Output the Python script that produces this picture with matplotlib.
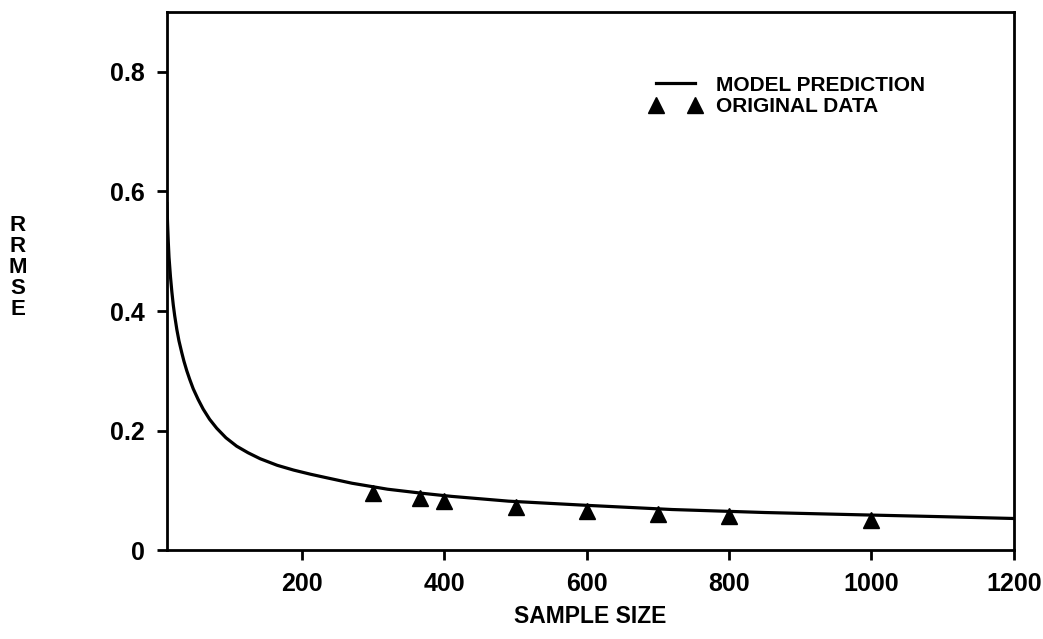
import numpy as np
import matplotlib
matplotlib.use("Agg")
import matplotlib.pyplot as plt
from matplotlib.ticker import FuncFormatter

# model prediction curve
modelSize = [10, 11, 12, 13, 15, 17, 19, 21, 24, 27, 31, 34, 38, 42, 47, 54, 61, 70, 80,
             93, 108, 124, 141, 165, 188, 212, 235, 270, 320, 370, 410, 490, 600, 720,
             850, 990, 1100, 1200]
modelRrmse = [0.58, 0.545, 0.515, 0.49, 0.458, 0.432, 0.41, 0.392, 0.369, 0.35, 0.330, 0.316,
              0.30, 0.286, 0.270, 0.252, 0.236, 0.219, 0.204, 0.188, 0.174, 0.163, 0.153,
              0.142, 0.134, 0.127, 0.121, 0.112, 0.102, 0.095, 0.090, 0.082, 0.075, 0.068,
              0.063, 0.059, 0.056, 0.053]

# original data points
dataSize = [300, 365, 400, 500, 600, 700, 800, 1000]
dataRrmse = [0.096, 0.087, 0.082, 0.073, 0.066, 0.060, 0.057, 0.051]

xticks = [200, 400, 600, 800, 1000, 1200]
yticks = [0, 0.2, 0.4, 0.6, 0.8]

plt.rcParams['font.family'] = ['Liberation Sans', 'DejaVu Sans']
plt.rcParams['font.weight'] = 'bold'

fig = plt.figure(figsize=(10.43, 6.39), dpi=100)
ax = fig.add_axes([0.160, 0.139, 0.812, 0.842])

ax.plot(modelSize, modelRrmse, color='black', linewidth=2.3, label='MODEL PREDICTION')
ax.plot(dataSize, dataRrmse, linestyle='none', marker='^', markersize=12,
        color='black', label='ORIGINAL DATA')

ax.set_xlim(10, 1200)
ax.set_ylim(0, 0.9)
ax.set_xticks(xticks)
ax.set_yticks(yticks)
ax.yaxis.set_major_formatter(FuncFormatter(lambda v, p: '0' if v == 0 else '%.1f' % v))
ax.tick_params(direction='out', length=7, width=2, labelsize=18, pad=9)
ax.tick_params(axis='y', pad=9)
for lab in ax.get_xticklabels() + ax.get_yticklabels():
    lab.set_fontweight('bold')
for sp in ax.spines.values():
    sp.set_linewidth(2)

ax.set_xlabel('SAMPLE SIZE', fontsize=16.5, fontweight='bold', labelpad=6)
fig.text(0.017, 0.581, 'R\nR\nM\nS\nE', fontsize=16, fontweight='bold',
         ha='center', va='center', linespacing=1.0)

ax.legend(loc='upper left', bbox_to_anchor=(0.570, 0.882), frameon=False, numpoints=2,
          borderpad=0, borderaxespad=0, handlelength=2.5, handletextpad=0.7,
          labelspacing=0.13, prop={'size': 15, 'weight': 'bold'})

fig.savefig('out.png', dpi=100)
